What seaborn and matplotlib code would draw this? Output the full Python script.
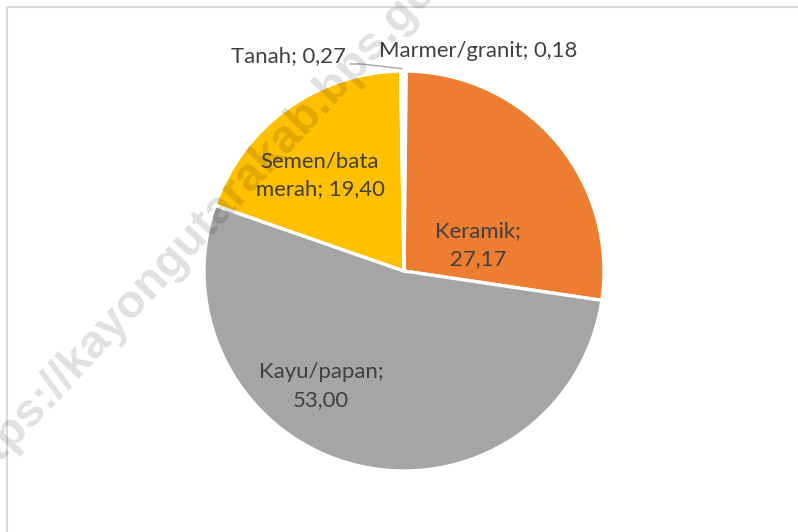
import matplotlib
matplotlib.use("Agg")
import matplotlib.pyplot as plt
from matplotlib.patches import Rectangle
from matplotlib.lines import Line2D
import seaborn as sns

# ---- data ----
categories = ["Marmer/granit", "Keramik", "Kayu/papan", "Semen/bata merah", "Tanah"]
values = [0.18, 27.17, 53.00, 19.40, 0.27]
value_labels = ["0,18", "27,17", "53,00", "19,40", "0,27"]
colors = ["#4472C4", "#ED7D31", "#A5A5A5", "#FFC000", "#5B9BD5"]
watermark = "https://kayongutarakab.bps.go.id"

sns.set_theme(style="white")
plt.rcParams["font.family"] = ["Lato", "DejaVu Sans"]

W, H = 798, 532
fig = plt.figure(figsize=(W / 100, H / 100), dpi=100)
fig.patch.set_facecolor("white")

cx, cy, r = 404, 271, 200
ax = fig.add_axes([(cx - r) / W, (H - cy - r) / H, 2 * r / W, 2 * r / H])
ax.set_xlim(-1, 1)
ax.set_ylim(-1, 1)
ax.set_aspect("equal")
ax.axis("off")

wedges, _ = ax.pie(values, colors=colors, startangle=90, counterclock=False,
                   radius=1, center=(0, 0), frame=False,
                   wedgeprops=dict(edgecolor="white", linewidth=2.4))
ax.set_xlim(-1, 1)
ax.set_ylim(-1, 1)
for w in wedges:
    w.set_zorder(1)

# label layout (pie radius units)
label_pos = {
    "Marmer/granit": (-0.125, 1.10, "left", False),
    "Keramik": (0.37, 0.1275, "center", True),
    "Kayu/papan": (-0.415, -0.575, "center", True),
    "Semen/bata merah": (-0.42, 0.4775, "center", True),
    "Tanah": (-0.29, 1.075, "right", False),
}
txtcol = "#404040"
for cat, val in zip(categories, value_labels):
    x, y, ha, inside = label_pos[cat]
    if cat == "Semen/bata merah":
        s = "Semen/bata\nmerah; " + val
    elif inside:
        s = cat + ";\n" + val
    else:
        s = cat + "; " + val
    ax.text(x, y, s, ha=ha, va="center", fontsize=15.9, color=txtcol,
            linespacing=1.5, zorder=5, clip_on=False)

# leader line for Tanah
ax.add_line(Line2D([-0.27, -0.215, -0.01], [1.035, 1.035, 1.012],
                   color="#A6A6A6", lw=1, zorder=4, clip_on=False))

# watermark
fig.text(214 / W, 1 - 213 / H, watermark, rotation=47, ha="center", va="center",
         fontsize=34, fontweight="bold", family="Liberation Sans",
         color="black", alpha=0.12, zorder=2, rotation_mode="anchor")

# chart border
fig.add_artist(Rectangle((6.5 / W, -0.1), 1.2, (H - 7) / H + 0.1,
                         transform=fig.transFigure, fill=False,
                         edgecolor="#D9D9D9", lw=1.5, zorder=0))

fig.savefig("out.png", dpi=100)
